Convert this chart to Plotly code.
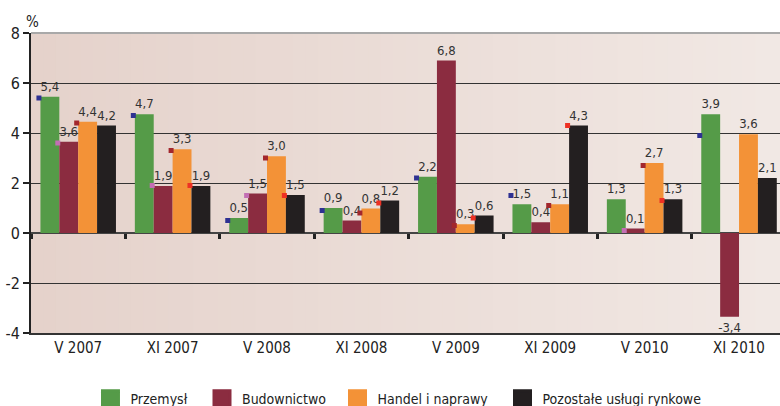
import plotly.graph_objects as go

categories = ["V 2007", "XI 2007", "V 2008", "XI 2008", "V 2009", "XI 2009", "V 2010", "XI 2010"]
series_names = ["Przemysł", "Budownictwo", "Handel i naprawy", "Pozostałe usługi rynkowe"]

# bar heights as drawn in the picture
przemysl = [5.45, 4.75, 0.6, 1.0, 2.25, 1.15, 1.35, 4.75]
budownictwo = [3.65, 1.88, 1.58, 0.5, 6.9, 0.43, 0.18, -3.35]
handel = [4.45, 3.35, 3.07, 0.98, 0.35, 1.15, 2.8, 3.95]
pozostale = [4.3, 1.88, 1.52, 1.3, 0.7, 4.3, 1.35, 2.2]

# printed labels
przemysl_lbl = ["5,4", "4,7", "0,5", "0,9", "2,2", "1,5", "1,3", "3,9"]
budownictwo_lbl = ["3,6", "1,9", "1,5", "0,4", "6,8", "0,4", "0,1", "-3,4"]
handel_lbl = ["4,4", "3,3", "3,0", "0,8", "0,3", "1,1", "2,7", "3,6"]
pozostale_lbl = ["4,2", "1,9", "1,5", "1,2", "0,6", "4,3", "1,3", "2,1"]

# small square markers seen at the bars' left edges
przemysl_mk = [5.4, 4.7, 0.5, 0.9, 2.2, 1.5, None, 3.9]
budownictwo_mk = [3.6, 1.9, 1.5, None, None, None, 0.1, None]
handel_mk = [4.4, 3.3, 3.0, 0.8, 0.3, 1.1, 2.7, None]
pozostale_mk = [None, 1.9, 1.5, 1.2, 0.6, 4.3, 1.3, None]

y_ticks = [-4, -2, 0, 2, 4, 6, 8]

bar_colors = ["#559B48", "#8B2C40", "#F39237", "#231F20"]
mk_colors = ["#2E3192", "#C36FB4", "#A3272D", "#EE3124"]

FONT = "Liberation Sans Narrow, DejaVu Sans Condensed, Roboto Condensed, Liberation Sans, sans-serif"

values = [przemysl, budownictwo, handel, pozostale]
labels = [przemysl_lbl, budownictwo_lbl, handel_lbl, pozostale_lbl]
markers = [przemysl_mk, budownictwo_mk, handel_mk, pozostale_mk]

fig = go.Figure()
for k in range(4):
    fig.add_trace(go.Bar(
        x=categories, y=values[k], name=series_names[k],
        marker=dict(color=bar_colors[k], line=dict(width=0)),
        text=labels[k], textposition="outside", constraintext="none", textangle=0,
        textfont=dict(family=FONT, size=13, color="#333333"),
        cliponaxis=False, showlegend=False,
    ))

n = len(categories)
nser = 4
bargap = 0.2
bw = (1 - bargap) / nser
for k in range(4):
    xs = [i - (1 - bargap) / 2 + bw * k - 0.016 for i in range(n)]
    fig.add_trace(go.Scatter(
        x=xs, y=markers[k], xaxis="x2", mode="markers",
        marker=dict(symbol="square", size=5, color=mk_colors[k]),
        showlegend=False, hoverinfo="skip",
    ))

# legend entries, each in its own legend box
legend_ids = ["legend", "legend2", "legend3", "legend4"]
legend_x = [0.0794, 0.2283, 0.4092, 0.6295]
for k in range(4):
    fig.add_trace(go.Scatter(
        x=[None], y=[None], mode="markers", name=series_names[k], legend=legend_ids[k],
        marker=dict(symbol="square", size=16, color=bar_colors[k],
                    line=dict(color=bar_colors[k], width=3)),
    ))

# background gradient stripes
shapes = []
N = 60
c0 = (229, 210, 203)
c1 = (241, 232, 228)
for j in range(N):
    t = j / (N - 1)
    col = tuple(round(c0[m] + (c1[m] - c0[m]) * t) for m in range(3))
    shapes.append(dict(type="rect", xref="x domain", yref="y domain",
                       x0=j / N, x1=(j + 1) / N + 0.002, y0=0, y1=1,
                       fillcolor="rgb(%d,%d,%d)" % col, line=dict(width=0), layer="below"))
shapes.append(dict(type="line", xref="x domain", yref="y domain", x0=0, x1=1, y0=1, y1=1,
                   line=dict(color="#a9a9a9", width=2), layer="above"))

legend_common = dict(orientation="h", xanchor="left", y=-0.167, yanchor="top",
                     font=dict(family=FONT, size=14, color="#222222"), itemsizing="trace",
                     bgcolor="rgba(0,0,0,0)")
legends = {}
for k in range(4):
    legends[legend_ids[k]] = dict(legend_common, x=legend_x[k])

xr = [-0.5, 7.434]
fig.update_layout(
    width=780, height=406,
    margin=dict(l=31, r=0, t=33, b=73, autoexpand=False),
    paper_bgcolor="white", plot_bgcolor="#EBDDD7",
    barmode="group", bargap=bargap, bargroupgap=0,
    font=dict(family=FONT, color="#222222"),
    xaxis=dict(type="category", range=xr, showgrid=False, ticks="", showline=True,
               linecolor="#333333", linewidth=2, zeroline=False, automargin=False,
               tickfont=dict(family=FONT, size=15, color="#222222")),
    xaxis2=dict(overlaying="x", anchor="free", position=1 / 3, range=xr, showgrid=False,
                zeroline=False, showline=False, showticklabels=False, automargin=False,
                tickmode="array", tickvals=[i - 0.5 for i in range(n)],
                ticks="outside", ticklen=5, tickwidth=3, tickcolor="#222222"),
    yaxis=dict(range=[-4, 8], tickmode="array", tickvals=y_ticks, automargin=False,
               ticktext=[str(v) for v in y_ticks], showgrid=True, gridcolor="#333333", gridwidth=1,
               zeroline=True, zerolinecolor="#444444", zerolinewidth=2,
               showline=True, linecolor="#222222", linewidth=2,
               ticks="outside", ticklen=6, tickwidth=2, tickcolor="#222222",
               tickfont=dict(family=FONT, size=16, color="#222222")),
    shapes=shapes,
    annotations=[dict(text="%", xref="paper", yref="paper", x=0, y=1, xanchor="left",
                      yanchor="bottom", yshift=0, xshift=-7, showarrow=False,
                      font=dict(family=FONT, size=15, color="#222222"))],
    **legends,
)

fig.write_html("out.html", config={"displayModeBar": False},
               post_script="document.body.style.margin='0';")
